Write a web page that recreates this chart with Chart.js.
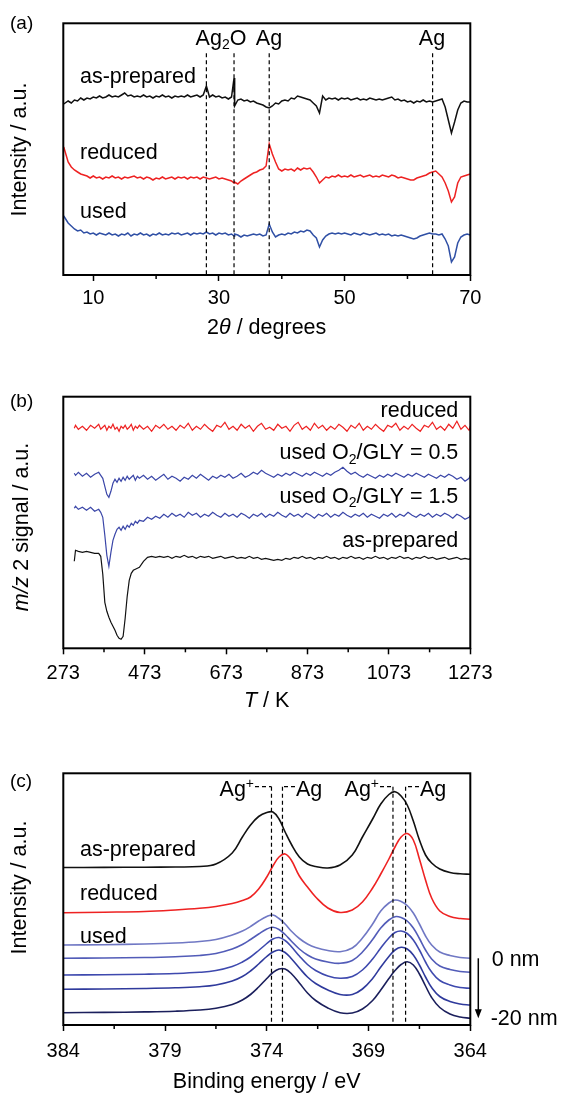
<!DOCTYPE html>
<html>
<head>
<meta charset="utf-8">
<script src="https://cdn.jsdelivr.net/npm/chart.js@4.4.1/dist/chart.umd.min.js"></script>
<style>
  body { margin: 0; background: #fff; }
  canvas { position: absolute; left: 0; }
</style>
</head>
<body>
<canvas id="chartA" width="561" height="340" style="top:0px"></canvas>
<canvas id="chartB" width="561" height="375" style="top:340px"></canvas>
<canvas id="chartC" width="561" height="378" style="top:715px"></canvas>
<script>
const FONT = '"Liberation Sans", Arial, sans-serif';

// ---- (a) XRD, 2theta in degrees, intensity offset (a.u.)
const xrdAngle = [5.3,6,6.5,7,7.5,8,8.5,9,9.5,10,10.5,11,11.5,12,12.5,13,13.5,14,14.5,15,15.5,16,16.5,17,17.5,18,18.5,19,19.5,20,20.5,21,21.5,22,22.5,23,23.5,24,24.5,25,25.5,26,26.5,27,27.5,28,28.5,29,29.5,30,30.5,31,31.5,32,32.4,32.5,33,33.5,34,34.5,35,35.5,36,36.5,37,37.5,38,38.5,39,39.5,40,40.5,41,41.5,42,42.5,43,43.5,44,44.5,45,45.5,46,46.5,47,47.5,48,48.5,49,49.5,50,50.5,51,51.5,52,52.5,53,53.5,54,54.5,55,55.5,56,56.5,57,57.5,58,58.5,59,59.5,60,60.5,61,61.5,62,62.5,63,63.5,64,64.5,65,65.5,66,66.5,67,67.5,68,68.5,69,69.5,70];
const xrdAsPrepared = [171,174,172,175,174,177,175,177,176,178,
  177,179,177,178,180,178,179,178,180,182,
  179,180,178,179,178,180,178,179,177,179,
  178,180,178,179,177,179,178,179,178,180,
  178,179,180,178,180,189,178,180,178,179,
  177,178,176,178,197,169,175,176,174,175,
  173,174,172,171,170,168,167,169,172,171,
  174,175,174,177,176,179,178,177,176,175,
  172,169,162,179,175,177,176,177,175,177,
  176,177,175,176,177,175,176,175,177,176,
  175,176,175,176,177,178,175,176,174,175,
  173,174,172,174,173,175,173,174,173,174,
  175,176,168,155,142,153,165,172,174,173,
  173];
const xrdReduced = [128,113,108,105,103,101,100,99,97,99,
  97,98,96,98,97,99,97,98,96,98,
  97,98,99,97,98,96,98,97,95,97,
  96,98,96,97,98,96,98,97,98,96,
  98,97,98,96,98,97,96,97,98,96,
  97,96,95,94,92,93,91,94,96,98,
  100,102,103,105,106,109,131,121,113,106,
  104,106,105,106,104,107,105,107,106,107,
  103,98,92,95,98,97,99,98,100,98,
  99,98,100,98,99,100,98,99,100,98,
  99,98,100,99,98,100,99,97,98,97,
  96,95,95,97,98,99,100,102,103,104,
  101,98,92,84,73,78,92,98,99,100,
  101];
const xrdUsed = [59,52,49,46,44,45,42,43,41,42,
  40,42,41,40,42,40,41,39,41,40,
  42,39,41,40,42,40,41,39,41,40,
  42,40,41,40,42,41,42,40,41,42,
  40,42,41,42,41,43,41,42,40,42,
  41,42,40,41,39,41,40,38,40,39,
  40,41,40,41,39,40,51,43,38,40,
  41,40,42,41,43,42,44,43,45,44,
  40,37,28,35,39,41,42,41,42,41,
  42,41,40,42,41,40,42,41,40,41,
  42,40,41,40,41,39,40,39,40,39,
  38,37,36,37,39,40,41,42,41,41,
  40,41,36,29,13,18,32,38,40,41,
  40];
const xrdTicks = [10, 30, 50, 70];
const xrdMinor = [20, 40, 60];
const xrdMarks = [28, 32.4, 38, 64];

// ---- (b) TPR, m/z 2 signal vs T (K)
const tprTemp = [300,303,310,320,330,340,350,360,365,370,375,380,385,390,395,400,405,410,415,420,425,430,435,440,445,450,455,460,470,480,490,500,510,520,530,540,550,560,570,580,590,600,610,620,630,640,650,660,670,680,690,700,710,720,730,740,750,760,770,780,790,800,810,820,830,840,850,860,870,880,890,900,910,920,930,940,950,960,970,980,990,1000,1010,1020,1030,1040,1050,1060,1070,1080,1090,1100,1110,1120,1130,1140,1150,1160,1170,1180,1190,1200,1210,1220,1230,1240,1250,1260,1270,1273];
const tprReduced = [220,223,219,222,218,223,220,224,219,221,223,218,222,220,224,219,221,217,222,220,223,219,221,224,218,222,220,223,
  219,222,217,223,220,224,219,222,218,223,
  220,225,218,222,219,224,220,217,223,221,
  226,219,222,218,224,220,223,217,222,225,
  219,221,218,224,220,222,217,223,226,219,
  222,218,225,220,223,218,222,219,224,221,
  217,223,220,225,218,222,219,224,220,217,
  223,221,225,218,222,219,224,220,217,223,
  221,226,219,222,218,224,220,227,219,223,
  218,222];
const tprUsed05 = [175,173,176,172,175,171,174,176,173,170,162,154,151,157,165,169,166,170,167,171,168,172,169,171,173,168,172,170,
  173,169,172,168,171,174,169,172,170,167,
  171,169,173,170,174,171,168,172,170,173,
  171,174,170,172,175,171,173,176,174,178,
  175,173,171,174,172,175,173,176,174,172,
  175,173,176,174,172,175,173,176,178,181,
  177,174,176,173,171,174,172,170,173,171,
  174,172,175,173,171,174,172,175,173,171,
  174,172,170,173,171,174,172,169,171,167,
  170,173];
const tprUsed15 = [140,142,139,141,138,141,137,139,136,131,113,93,82,96,108,114,119,121,118,122,119,123,121,125,123,127,125,128,
  127,131,129,132,130,134,131,135,132,134,
  131,136,133,135,131,134,132,136,133,131,
  135,132,134,131,135,133,130,134,132,135,
  131,134,132,136,133,131,135,132,134,131,
  135,133,130,134,132,135,131,134,132,136,
  133,131,134,132,135,131,134,132,130,134,
  132,135,131,134,132,136,133,131,134,132,
  135,131,134,132,135,133,130,134,132,129,
  131,133];
const tprAsPrepared = [87,98,97,96,97,96,95,95,92,74,46,37,31,26,22,18,13,10,9,12,30,52,68,75,78,79,80,81,
  87,91,92,91,92,91,92,90,92,91,
  93,91,92,90,92,91,92,90,91,92,
  90,91,92,90,91,90,92,90,91,89,
  90,89,88,89,88,90,89,91,90,92,
  90,91,89,91,90,92,90,91,89,91,
  90,92,90,91,89,91,90,92,90,91,
  89,91,90,92,90,91,89,91,90,92,
  90,91,89,90,91,89,90,91,89,90,
  89,90];
const tprTicks = [273, 473, 673, 873, 1073, 1273];
const tprMinor = [373, 573, 773, 973, 1173];

// ---- (c) XPS Ag 3d, binding energy (eV)
const xpsEnergy = [384,382,380,378.5,377.3,376.5,375.7,375.2,374.8,374.4,374.0,373.7,373.4,373.1,372.8,372.4,372.0,371.6,371.0,370.4,369.8,369.3,368.8,368.4,368.0,367.7,367.4,367.1,366.8,366.5,366.2,365.9,365.5,365.0,364.5,364];
const xpsAsPrepared = [157.5,157.6,157.8,158,158.5,161,172,188,200,208.5,212.5,213,206,193,181,168,161,158.5,157,160,170,188,206,221,230.5,233.3,229,220,204,185,170,162,156,152.5,151.2,150.7];
const xpsReduced = [112.3,112.8,113.5,115,116.7,118.5,121.5,124.5,128,136,148,159,168,171,165,149,138,128,117,112.5,115,123,137,151,166,178,188,191.5,185,166,145,127,114,108.5,106.5,105.7];
const xpsUsed0 = [80,80.3,81,82,83.5,85.5,90,94,98.5,104,108.5,110,106.5,101,94,86.5,81,77.5,74.5,73.3,77,87,101,114,122,125,123.5,119.5,112,101,89,80,73,69.5,67.5,66.7];
const xpsUsed5 = [66.7,67,67.5,68.3,69.5,71.5,76,80.5,85.5,91,96,97.7,95.5,90.5,84,76,70,66,63,61.7,64.5,73,85.5,97,105,108.3,107.5,104,97,86.5,75,66,59,55.5,53.5,52.7];
const xpsUsed10 = [50,50.3,50.8,51.5,52.7,54.5,58.5,63,68,74.5,81.5,86,87.5,84.5,78.5,69,60.5,54.5,49,46.7,48.5,55,66,77,87,92.5,94,91.5,85,75,63,53,44.5,40,37.5,36.7];
const xpsUsed15 = [35.7,36,36.5,37.2,38.3,40,44,48.5,54,61,68.5,73,75,72.5,66.5,57,48,41.5,35,30.5,30.5,36,46.5,58,68.5,75,77.7,76,70,60,48,37.5,28.5,23.5,21,20];
const xpsUsed20 = [12.3,12.6,13.1,13.8,15,16.8,20.5,25,30.5,38,46.5,52.5,56,56,51.5,42,32,24.5,17,12.3,12,16,24.5,35,46.5,54.5,60.5,63.3,60,51,39,27.5,17.5,11,8,6.7];
const xpsTicks = [384, 379, 374, 369, 364];
const xpsMinor = [381.5, 376.5, 371.5, 366.5];
const xpsMarks = [373.77, 373.23, 367.8, 367.18];

// text helper: parts = [[text, kind]] with kind '', 'i', 'sub', 'sup'
function rich(ctx, t) {
  const size = t.size || 21.5;
  const parts = typeof t.parts === 'string' ? [[t.parts, '']] : t.parts;
  const fontFor = k => (k === 'i' ? 'italic ' : '') + (k === 'sub' || k === 'sup' ? size * 0.65 : size) + 'px ' + FONT;
  let w = 0;
  parts.forEach(([s, k]) => { ctx.font = fontFor(k); w += ctx.measureText(s).width; });
  ctx.save();
  ctx.translate(t.x, t.y);
  if (t.rot) ctx.rotate(t.rot);
  let cx = t.align === 'right' ? -w : t.align === 'center' ? -w / 2 : 0;
  ctx.textBaseline = 'middle';
  ctx.textAlign = 'left';
  ctx.fillStyle = '#000';
  parts.forEach(([s, k]) => {
    ctx.font = fontFor(k);
    const dy = k === 'sub' ? size * 0.3 : k === 'sup' ? -size * 0.28 : 0;
    ctx.fillText(s, cx, dy);
    cx += ctx.measureText(s).width;
  });
  ctx.restore();
}

function seg(ctx, x1, y1, x2, y2) {
  ctx.beginPath(); ctx.moveTo(x1, y1); ctx.lineTo(x2, y2); ctx.stroke();
}

const UP = -Math.PI / 2;
const decoCfg = {
  chartA: {
    minor: xrdMinor, marks: xrdMarks, markTop: 221.7,
    texts: [
      { x: 10, y: 23.3, parts: '(a)', size: 19 },
      { x: 80, y: 77, parts: 'as-prepared' },
      { x: 80, y: 153.3, parts: 'reduced' },
      { x: 80, y: 212.3, parts: 'used' },
      { x: 221, y: 39, parts: [['Ag', ''], ['2', 'sub'], ['O', '']], align: 'center' },
      { x: 269, y: 39, parts: 'Ag', align: 'center' },
      { x: 432, y: 39, parts: 'Ag', align: 'center' },
      { x: 20, y: 149.5, parts: 'Intensity / a.u.', align: 'center', rot: UP },
      { x: 266.7, y: 328, parts: [['2', ''], ['θ', 'i'], [' / degrees', '']], align: 'center' }
    ]
  },
  chartB: {
    minor: tprMinor,
    texts: [
      { x: 10, y: 61.7, parts: '(b)', size: 19 },
      { x: 458.3, y: 70.7, parts: 'reduced', align: 'right' },
      { x: 458.3, y: 113.3, parts: [['used O', ''], ['2', 'sub'], ['/GLY = 0.5', '']], align: 'right' },
      { x: 458.3, y: 156.7, parts: [['used O', ''], ['2', 'sub'], ['/GLY = 1.5', '']], align: 'right' },
      { x: 458.3, y: 201, parts: 'as-prepared', align: 'right' },
      { x: 22, y: 187, parts: [['m/z', 'i'], [' 2 signal / a.u.', '']], align: 'center', rot: UP },
      { x: 266.7, y: 360.7, parts: [['T', 'i'], [' / K', '']], align: 'center' }
    ]
  },
  chartC: {
    minor: xpsMinor, marks: xpsMarks, markTop: 238.3,
    links: [[255, 373.77], [295, 373.23], [380, 367.8], [419, 367.18]],
    arrow: { x: 478.3, y1: 243.3, y2: 303.3 },
    texts: [
      { x: 10, y: 66.7, parts: '(c)', size: 19 },
      { x: 80, y: 135, parts: 'as-prepared' },
      { x: 80, y: 179.3, parts: 'reduced' },
      { x: 80, y: 221.7, parts: 'used' },
      { x: 254, y: 75, parts: [['Ag', ''], ['+', 'sup']], align: 'right' },
      { x: 296, y: 75, parts: 'Ag' },
      { x: 379, y: 75, parts: [['Ag', ''], ['+', 'sup']], align: 'right' },
      { x: 420, y: 75, parts: 'Ag' },
      { x: 491.7, y: 245, parts: '0 nm' },
      { x: 490.7, y: 304.3, parts: '-20 nm' },
      { x: 20, y: 172.5, parts: 'Intensity / a.u.', align: 'center', rot: UP },
      { x: 266.7, y: 366.7, parts: 'Binding energy / eV', align: 'center' }
    ]
  }
};

const deco = {
  id: 'deco',
  afterDraw(chart) {
    const o = decoCfg[chart.canvas.id];
    const { ctx, chartArea: ca } = chart;
    const x = chart.scales.x, y = chart.scales.y;
    ctx.save();
    ctx.strokeStyle = '#000';
    ctx.lineWidth = 1.5;
    o.minor.forEach(v => { const px = x.getPixelForValue(v); seg(ctx, px, ca.bottom, px, ca.bottom + 4); });
    ctx.setLineDash([4, 3]);
    ctx.lineWidth = 1.2;
    (o.marks || []).forEach(v => {
      const px = x.getPixelForValue(v);
      seg(ctx, px, y.getPixelForValue(o.markTop), px, ca.bottom);
    });
    (o.links || []).forEach(([px, v]) => {
      const py = y.getPixelForValue(o.markTop);
      seg(ctx, px, py, x.getPixelForValue(v), py);
    });
    ctx.setLineDash([]);
    if (o.arrow) {
      const a = o.arrow;
      ctx.lineWidth = 1.5;
      seg(ctx, a.x, a.y1, a.x, a.y2 - 6);
      ctx.beginPath();
      ctx.moveTo(a.x - 3.5, a.y2 - 9); ctx.lineTo(a.x + 3.5, a.y2 - 9); ctx.lineTo(a.x, a.y2);
      ctx.closePath(); ctx.fillStyle = '#000'; ctx.fill();
    }
    ctx.lineWidth = 2;
    ctx.strokeRect(ca.left, ca.top, ca.right - ca.left, ca.bottom - ca.top);
    o.texts.forEach(t => rich(ctx, t));
    ctx.restore();
  }
};

function makeChart(id, c) {
  return new Chart(document.getElementById(id), {
    type: 'line',
    data: {
      datasets: c.series.map(s => ({
        data: c.xs.map((xv, i) => ({ x: xv, y: s.ys[i] })),
        borderColor: s.color,
        borderWidth: c.lw,
        pointRadius: 0,
        tension: c.tension || 0,
        fill: false
      }))
    },
    options: {
      responsive: false,
      animation: false,
      devicePixelRatio: 1,
      layout: { padding: { top: c.top, right: 90.7, left: 0, bottom: 0 } },
      plugins: { legend: { display: false }, tooltip: { enabled: false } },
      scales: {
        x: {
          type: 'linear', min: c.min, max: c.max, reverse: !!c.reverse,
          afterFit: s => { s.height = c.xh; },
          afterBuildTicks: s => { s.ticks = c.ticks.map(v => ({ value: v })); },
          ticks: { autoSkip: false, maxRotation: 0, padding: c.pad, color: '#000',
                   font: { family: FONT, size: 20 }, callback: v => String(v) },
          grid: { drawOnChartArea: false, tickLength: 6, tickWidth: 1.5, tickColor: '#000' },
          border: { display: false }
        },
        y: {
          min: 0, max: c.ymax,
          afterFit: s => { s.width = 63.3; },
          ticks: { display: false },
          grid: { display: false },
          border: { display: false }
        }
      }
    },
    plugins: [deco]
  });
}

makeChart('chartA', {
  xs: xrdAngle, min: 5.23, max: 70, ticks: xrdTicks, top: 23.3, xh: 65, ymax: 251.7, pad: 5, lw: 1.5,
  series: [
    { ys: xrdAsPrepared, color: '#111111' },
    { ys: xrdReduced, color: '#ee2222' },
    { ys: xrdUsed, color: '#3050a5' }
  ]
});

makeChart('chartB', {
  xs: tprTemp, min: 273, max: 1273, ticks: tprTicks, top: 56.7, xh: 66.7, ymax: 251.6, pad: 7, lw: 1.2,
  series: [
    { ys: tprReduced, color: '#ee2222' },
    { ys: tprUsed05, color: '#3a46a8' },
    { ys: tprUsed15, color: '#3a46a8' },
    { ys: tprAsPrepared, color: '#111111' }
  ]
});

makeChart('chartC', {
  xs: xpsEnergy, min: 364, max: 384, reverse: true, ticks: xpsTicks, top: 58.3, xh: 68, ymax: 251.7, pad: 8.7, lw: 1.6, tension: 0.4,
  series: [
    { ys: xpsAsPrepared, color: '#111111' },
    { ys: xpsReduced, color: '#ee2222' },
    { ys: xpsUsed0, color: '#7078c4' },
    { ys: xpsUsed5, color: '#525cb8' },
    { ys: xpsUsed10, color: '#3e49ae' },
    { ys: xpsUsed15, color: '#2f3a9c' },
    { ys: xpsUsed20, color: '#1b1f5c' }
  ]
});
</script>
</body>
</html>
